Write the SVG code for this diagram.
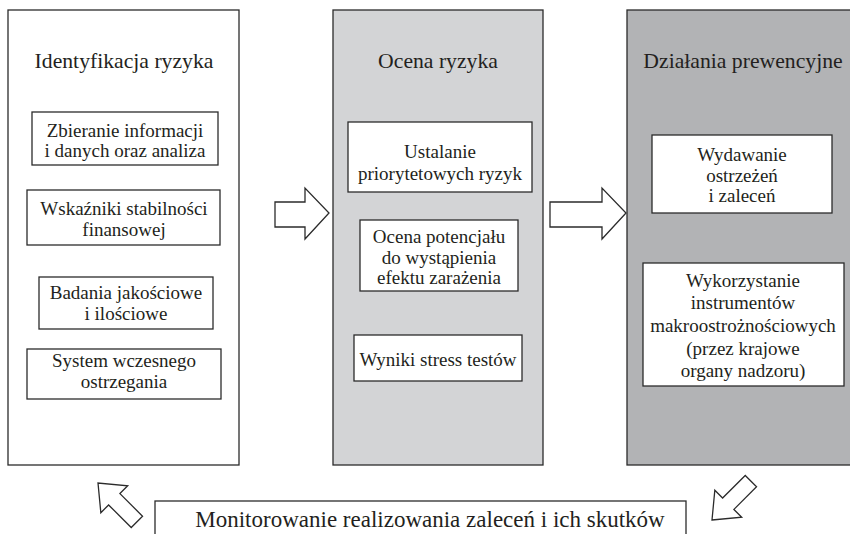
<svg xmlns="http://www.w3.org/2000/svg" width="850" height="534" viewBox="0 0 850 534">
<style>
.panel{stroke:#2b2b2b;stroke-width:1.3}
.box{fill:#fff;stroke:#2b2b2b;stroke-width:1.3}
.arr{fill:#fff;stroke:#2b2b2b;stroke-width:1.3;stroke-linejoin:miter}
text{font-family:"Liberation Serif","Times New Roman",serif;fill:#231f20;text-anchor:middle}
.t{font-size:21.7px}
.s{font-size:19px}
.m{font-size:23px}
</style>
<rect width="850" height="534" fill="#fff"/>
<g id="panel-identyfikacja">
<rect class="panel" x="8" y="10" width="231" height="455" fill="#fff"/>
<text class="t" x="124" y="68">Identyfikacja ryzyka</text>
</g>
<g id="zbieranie">
<rect class="box" x="32" y="112" width="186" height="53"/>
<text class="s" x="125" y="137">Zbieranie informacji</text>
<text class="s" x="125" y="157">i danych oraz analiza</text>
</g>
<g id="wskazniki">
<rect class="box" x="27" y="190" width="193" height="55"/>
<text class="s" x="124" y="215">Wskaźniki stabilności</text>
<text class="s" x="124" y="236">finansowej</text>
</g>
<g id="badania">
<rect class="box" x="39" y="277" width="174" height="52"/>
<text class="s" x="126" y="299">Badania jakościowe</text>
<text class="s" x="126" y="320">i ilościowe</text>
</g>
<g id="system">
<rect class="box" x="27" y="349" width="194" height="50"/>
<text class="s" x="124" y="367">System wczesnego</text>
<text class="s" x="124" y="388">ostrzegania</text>
</g>
<g id="panel-ocena">
<rect class="panel" x="333" y="10" width="210" height="455" fill="#d3d4d6"/>
<text class="t" x="438" y="68">Ocena ryzyka</text>
</g>
<g id="ustalanie">
<rect class="box" x="348" y="122" width="184" height="70"/>
<text class="s" x="440" y="158">Ustalanie</text>
<text class="s" x="440" y="180">priorytetowych ryzyk</text>
</g>
<g id="ocena-potencjalu">
<rect class="box" x="360" y="220" width="158" height="71"/>
<text class="s" x="439" y="243">Ocena potencjału</text>
<text class="s" x="439" y="264">do wystąpienia</text>
<text class="s" x="439" y="284">efektu zarażenia</text>
</g>
<g id="wyniki">
<rect class="box" x="354" y="335" width="168" height="46"/>
<text class="s" x="438" y="366">Wyniki stress testów</text>
</g>
<g id="panel-dzialania">
<rect class="panel" x="627" y="10" width="240" height="455" fill="#b2b3b5"/>
<text class="t" x="743" y="68">Działania prewencyjne</text>
</g>
<g id="wydawanie">
<rect class="box" x="652" y="135" width="180" height="78"/>
<text class="s" x="742" y="161">Wydawanie</text>
<text class="s" x="742" y="182">ostrzeżeń</text>
<text class="s" x="742" y="202">i zaleceń</text>
</g>
<g id="wykorzystanie">
<rect class="box" x="643" y="263" width="201" height="123"/>
<text class="s" x="743" y="287">Wykorzystanie</text>
<text class="s" x="743" y="309">instrumentów</text>
<text class="s" x="743" y="332">makroostrożnościowych</text>
<text class="s" x="743" y="355">(przez krajowe</text>
<text class="s" x="743" y="377">organy nadzoru)</text>
</g>
<g id="monitorowanie">
<rect class="box" x="155" y="501" width="531" height="40"/>
<text class="m" x="430" y="527">Monitorowanie realizowania zaleceń i ich skutków</text>
</g>
<g id="connectors">
<polygon class="arr" points="275,202 305,202 305,188 329,213 305,239 305,227 275,227"/>
<polygon class="arr" points="550,202 602,202 602,188 626,213 602,239 602,227 550,227"/>
<polygon class="arr" transform="translate(98,483) rotate(225)" points="0,0 -23,-19 -23,-8 -55,-8 -55,8 -23,8 -23,19"/>
<polygon class="arr" transform="translate(712,520) rotate(135)" points="0,0 -23,-19 -23,-8 -55,-8 -55,8 -23,8 -23,19"/>
</g>
</svg>
